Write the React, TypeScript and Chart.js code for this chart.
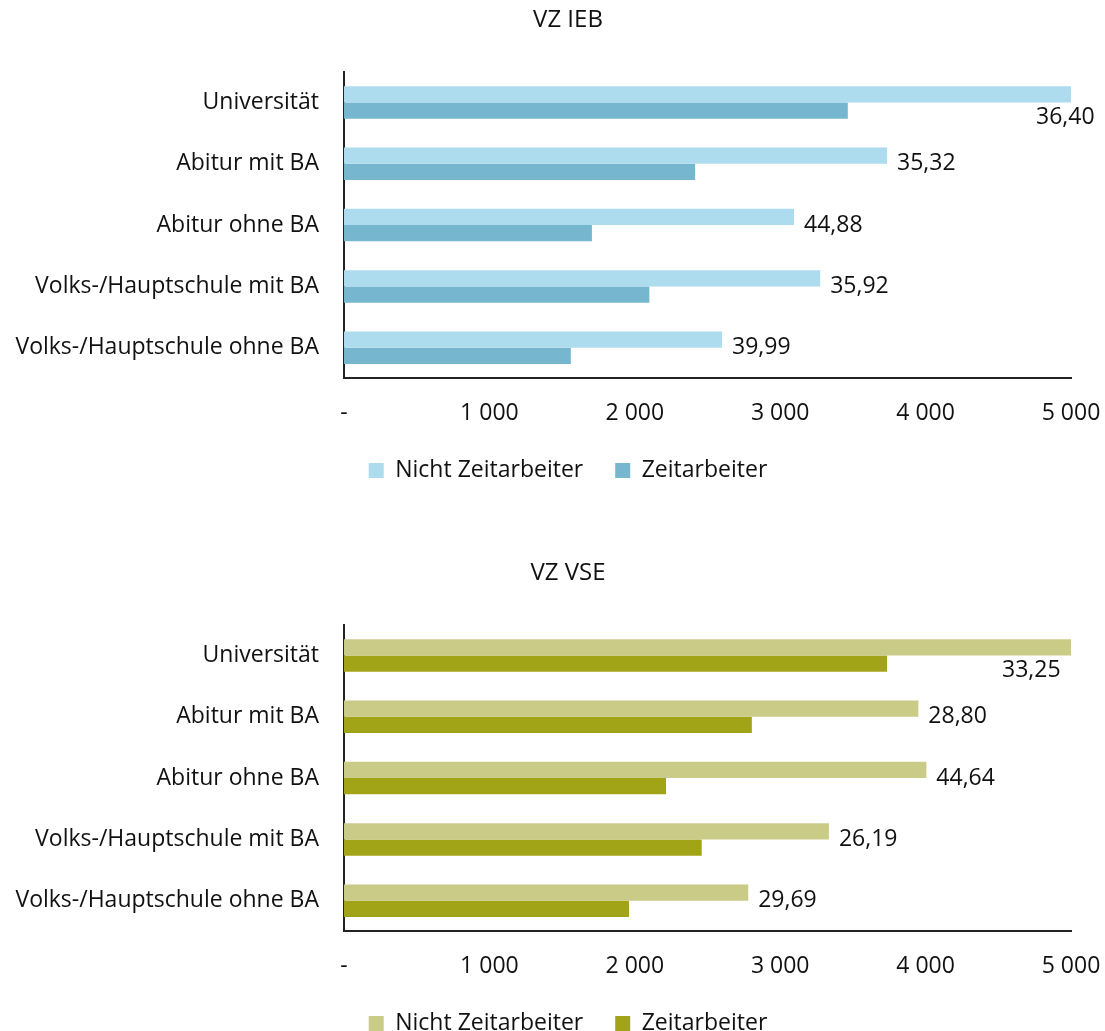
import React, { useEffect, useRef } from "react";
import { Chart, registerables } from "chart.js";

Chart.register(...registerables);

const categories = [
  "Universität",
  "Abitur mit BA",
  "Abitur ohne BA",
  "Volks-/Hauptschule mit BA",
  "Volks-/Hauptschule ohne BA",
];
const seriesNames = ["Nicht Zeitarbeiter", "Zeitarbeiter"];
const xTicks = [0, 1000, 2000, 3000, 4000, 5000];

const iebTitle = "VZ IEB";
const iebNicht = [5200, 3735, 3095, 3275, 2600];
const iebZeit = [3465, 2415, 1705, 2100, 1560];
const iebLabels = ["36,40", "35,32", "44,88", "35,92", "39,99"];

const vseTitle = "VZ VSE";
const vseNicht = [5150, 3950, 4005, 3335, 2780];
const vseZeit = [3735, 2805, 2215, 2460, 1960];
const vseLabels = ["33,25", "28,80", "44,64", "26,19", "29,69"];

const FONT = "'Open Sans', 'Noto Sans', sans-serif";
const FS = 23;

function fmt(v: number) {
  if (v === 0) return "-";
  return String(v).replace(/\B(?=(\d{3})+(?!\d))/g, " ");
}

type Props = {
  title: string;
  nicht: number[];
  zeit: number[];
  labels: string[];
  colors: [string, string];
  clippedDx: number;
  top: number;
};

function BarChart({ title, nicht, zeit, labels, colors, clippedDx, top }: Props) {
  const ref = useRef<HTMLCanvasElement | null>(null);
  useEffect(() => {
    if (!ref.current) return;
    const labelPlugin = {
      id: "valLabels",
      afterDatasetsDraw(chart: any) {
        const ctx = chart.ctx;
        const meta = chart.getDatasetMeta(0);
        const area = chart.chartArea;
        const yScale = chart.scales.y;
        ctx.save();
        ctx.font = `${FS}px ${FONT}`;
        ctx.fillStyle = "#111";
        ctx.textBaseline = "middle";
        ctx.textAlign = "left";
        meta.data.forEach((bar: any, i: number) => {
          const cy = yScale.getPixelForValue(i);
          if (bar.x > area.right) {
            ctx.fillText(labels[i], area.right + clippedDx, bar.y + 23);
          } else {
            ctx.fillText(labels[i], bar.x + 10, cy);
          }
        });
        ctx.restore();
      },
    };
    const chart = new Chart(ref.current, {
      type: "bar",
      data: {
        labels: categories,
        datasets: [
          { label: seriesNames[0], data: nicht, backgroundColor: colors[0], categoryPercentage: 0.53, barPercentage: 1 },
          { label: seriesNames[1], data: zeit, backgroundColor: colors[1], categoryPercentage: 0.53, barPercentage: 1 },
        ],
      },
      options: {
        indexAxis: "y",
        animation: false,
        responsive: false,
        maintainAspectRatio: false,
        layout: { padding: { left: 65, right: 34, top: 0, bottom: 0 } },
        scales: {
          x: {
            min: 0,
            max: 5000,
            afterBuildTicks: (s: any) => {
              s.ticks = xTicks.map((v) => ({ value: v }));
            },
            grid: { display: false, drawTicks: true, tickLength: 21 },
            border: { display: true, color: "#222", width: 2 },
            ticks: {
              padding: 0,
              color: "#111",
              font: { family: FONT, size: FS },
              callback: (v: any) => fmt(Number(v)),
            },
          },
          y: {
            afterFit: (s: any) => {
              s.width = 279;
              s._computeLabelArea = () => undefined;
            },
            grid: { display: false, drawTicks: false },
            border: { display: true, color: "#222", width: 2 },
            ticks: {
              padding: 25,
              color: "#111",
              font: { family: FONT, size: FS },
            },
          },
        },
        plugins: {
          title: {
            display: true,
            text: title,
            color: "#111",
            font: { family: FONT, size: 24, weight: "normal" },
            padding: { top: 6, bottom: 37 },
          },
          legend: {
            position: "bottom",
            maxHeight: 51,
            labels: {
              boxWidth: 15,
              boxHeight: 15,
              padding: 32,
              color: "#111",
              font: { family: FONT, size: FS },
            },
          },
          tooltip: { enabled: false },
        },
      },
      plugins: [labelPlugin],
    } as any);
    return () => chart.destroy();
  }, []);
  return (
    <canvas
      ref={ref}
      width={1105}
      height={478}
      style={{ position: "absolute", left: 0, top, width: 1105, height: 478 }}
    />
  );
}

export default function App() {
  useEffect(() => {
    document.body.style.margin = "0";
  }, []);
  return (
    <div style={{ position: "relative", width: 1105, height: 1031, background: "#fff", overflow: "hidden" }}>
      <BarChart
        title={iebTitle}
        nicht={iebNicht}
        zeit={iebZeit}
        labels={iebLabels}
        colors={["#ADDCEE", "#77B6CF"]}
        clippedDx={-35}
        top={0}
      />
      <BarChart
        title={vseTitle}
        nicht={vseNicht}
        zeit={vseZeit}
        labels={vseLabels}
        colors={["#CBCB88", "#A2A418"]}
        clippedDx={-69}
        top={553}
      />
    </div>
  );
}
